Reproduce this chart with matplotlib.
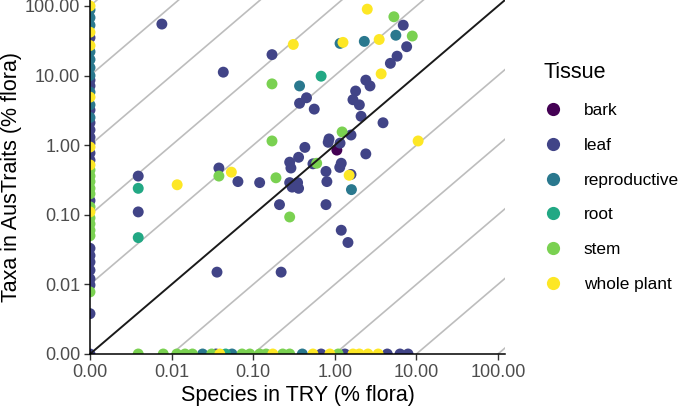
import numpy as np
import matplotlib
matplotlib.use("Agg")
import matplotlib.pyplot as plt
from matplotlib.lines import Line2D

plt.rcParams['font.family'] = ['Liberation Sans', 'DejaVu Sans']

tissues = ["bark", "leaf", "reproductive", "root", "stem", "whole plant"]
tissue_colors = ["#440154", "#414487", "#2A788E", "#22A884", "#7AD151", "#FDE725"]

# Species in TRY (% flora) vs taxa in AusTraits (% flora), per tissue
bark_try = [1.06]
bark_aus = [0.85]

leaf_try = [0.0076, 0.043, 0.17, 0.37, 0.0039, 0.038, 0.065, 0.12, 0.0039, 0.036,
            0.22, 0.21, 6.9, 7.6, 5.8, 4.8, 2.4, 2.7, 1.8, 0.45,
            0.56, 1.67, 2.0, 2.1, 3.9, 1.58, 0.85, 0.83, 1.16, 0.43,
            0.36, 2.4, 1.2, 1.15, 0.78, 1.58, 0.8, 0.28, 0.29, 0.54,
            0.28, 0.35, 0.36, 0.30, 0.78, 1.2, 1.45,
            0, 0, 0, 0, 0, 0, 0, 0, 0, 0, 0, 0, 0, 0, 0, 0, 0, 0, 0,
            0.035, 0.68, 1.33, 4.4, 6.3, 7.9]
leaf_aus = [55, 11.2, 20, 4.0, 0.36, 0.47, 0.30, 0.29, 0.11, 0.015,
            0.015, 0.14, 53, 26, 19, 15, 8.6, 7.1, 6.0, 4.8,
            3.3, 4.5, 3.8, 2.6, 2.1, 1.4, 1.23, 1.1, 1.07, 0.93,
            0.67, 0.75, 0.55, 0.48, 0.42, 0.38, 0.30, 0.57, 0.47, 0.54,
            0.29, 0.29, 0.24, 0.25, 0.14, 0.06, 0.04,
            35, 8.6, 7.1, 3.2, 2.1, 1.66, 1.3, 1.07, 0.77, 0.61, 0.16,
            0.033, 0.026, 0.021, 0.016, 0.012, 0.0098, 0.0038, 0,
            0, 0, 0, 0, 0, 0]

repro_try = [0.37, 5.6, 2.3, 1.16, 1.6,
             0, 0, 0, 0, 0, 0, 0, 0, 0, 0,
             0.024, 0.055, 0.4]
repro_aus = [7.1, 38, 31, 29, 0.23,
             88, 68, 53, 22, 17, 13, 10, 5.8, 3.8, 2.5,
             0, 0, 0]

root_try = [0.0039, 0.0039, 0.68, 0.046]
root_aus = [0.24, 0.047, 9.8, 0]

stem_try = [0.17, 0.17, 0.038, 0.19, 0.28, 5.3, 8.9, 1.23, 0.6,
            0, 0, 0, 0, 0, 0, 0, 0, 0, 0, 0,
            0.0039, 0.0079, 0.0116, 0.0146, 0.018, 0.031, 0.073, 0.091,
            0.12, 0.144, 0.23, 0.28, 1.1]
stem_aus = [7.6, 1.15, 0.36, 0.34, 0.093, 70, 37, 1.55, 0.55,
            0.44, 0.36, 0.30, 0.24, 0.20, 0.13, 0.09, 0.074, 0.06, 0.05, 0.0078,
            0, 0, 0, 0, 0, 0, 0, 0,
            0, 0, 0, 0, 0]

whole_try = [0.31, 0.0117, 0.054, 2.5, 3.5, 1.26, 3.7, 10.5, 1.5,
             0, 0, 0, 0, 0, 0, 0,
             0.039, 0.174, 0.54, 0.87, 1.67, 2.0, 2.55, 3.4]
whole_aus = [28, 0.27, 0.41, 90, 33, 30, 10.6, 1.15, 0.37,
             100, 42, 27, 4.9, 0.94, 0.52, 0.11,
             0, 0, 0, 0, 0, 0, 0, 0]

series = [(bark_try, bark_aus), (leaf_try, leaf_aus), (repro_try, repro_aus),
          (root_try, root_aus), (stem_try, stem_aus), (whole_try, whole_aus)]

tick_vals = [0, 0.01, 0.1, 1, 10, 100]
tick_labels = ["0.00", "0.01", "0.10", "1.00", "10.00", "100.00"]
guide_offsets = [-5, -4, -3, -2, -1, 1, 2, 3, 4, 5]


def fwd(v):
    v = np.asarray(v, dtype=float)
    with np.errstate(divide='ignore', invalid='ignore'):
        return np.where(v > 0, np.log10(np.where(v > 0, v, 1.0)), -3.0)


def inv(t):
    return np.power(10.0, np.asarray(t, dtype=float))


fig = plt.figure(figsize=(6.8, 4.07), dpi=100)
ax = fig.add_axes([90 / 680, 53 / 407, 415 / 680, 354 / 407])
ax.set_xscale('function', functions=(fwd, inv))
ax.set_yscale('function', functions=(fwd, inv))

line_x = np.array([1e-9, 1e6])
for k in guide_offsets:
    ax.plot(line_x, line_x * 10.0 ** k, color='#BDBDBD', lw=1.2, zorder=1)

for (xs, ys), col in zip(series, tissue_colors):
    ax.scatter(xs, ys, s=62, color=col, edgecolors='none', zorder=2)

ax.plot(line_x, line_x, color='#1A1A1A', lw=1.4, zorder=3)

ax.set_xlim(0, 10 ** 2.086)
ax.set_ylim(0, 10 ** 2.086)
ax.set_xticks(tick_vals)
ax.set_xticklabels(tick_labels)
ax.set_yticks(tick_vals)
ax.set_yticklabels(tick_labels)
ax.minorticks_off()

for s in ['top', 'right']:
    ax.spines[s].set_visible(False)
for s in ['left', 'bottom']:
    ax.spines[s].set_linewidth(1.1)
    ax.spines[s].set_color('black')
    ax.spines[s].set_zorder(4)
ax.tick_params(axis='both', length=4, width=1.0, color='#333333',
               labelsize=13, labelcolor='#4D4D4D', pad=3)

ax.set_xlabel("Species in TRY (% flora)", fontsize=15.5, labelpad=3)
ax.set_ylabel("Taxa in AusTraits (% flora)", fontsize=15.5, labelpad=2)

handles = [Line2D([], [], ls='none', marker='o', ms=9.5, mfc=c, mec='none')
           for c in tissue_colors]
fig.legend(handles, tissues, title='Tissue', loc='upper left',
           bbox_to_anchor=(544 / 680, 1 - 62 / 407), frameon=False,
           fontsize=12.4, title_fontsize=15.5, handlelength=1.0,
           handletextpad=1.3, labelspacing=1.15, borderpad=0,
           borderaxespad=0, alignment='left')

fig.savefig('out.png', dpi=100)
